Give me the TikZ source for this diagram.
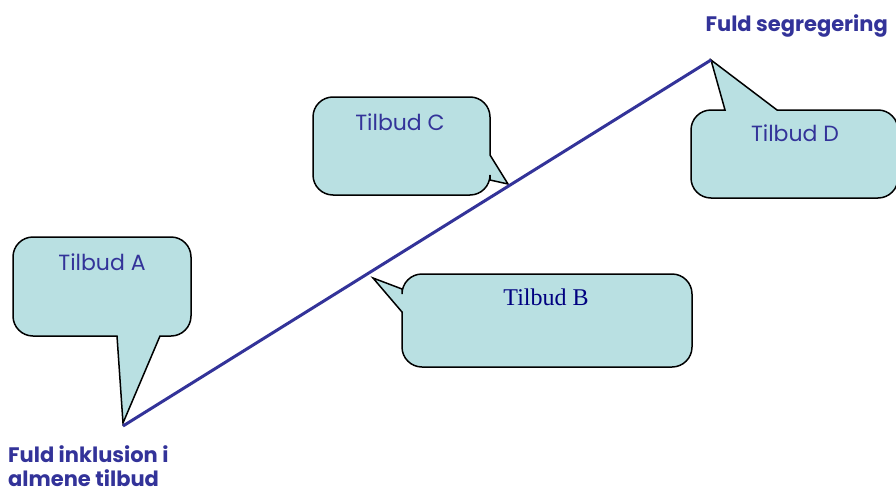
\documentclass[tikz,border=0pt]{standalone}
\usepackage{fontspec}
\setmainfont{Poppins}
\newfontfamily\serifB{Liberation Serif}
\definecolor{bubblefill}{RGB}{185,224,226}
\definecolor{labelblue}{RGB}{51,51,153}
\definecolor{navyB}{RGB}{0,0,128}
\tikzset{
	bubble/.style={draw=black, line width=1.5pt, fill=bubblefill, rounded corners=20pt},
	bubbletext/.style={text=labelblue, font=\fontsize{22}{26}\selectfont},
	endlabel/.style={text=labelblue, font=\bfseries\fontsize{21}{24}\selectfont, align=left, inner sep=1pt}
}

\begin{document}
\begin{tikzpicture}[x=1pt, y=-1pt]
	\useasboundingbox (0,0) rectangle (896,495);
	\coordinate (incl) at (123,426);
	\coordinate (segr) at (711,60);
	% callouts
	\draw[bubble] (100,237) -- (191,237) -- (191,336) [sharp corners] -- (160,336) -- (123,423) -- (117,336) [rounded corners=20pt] -- (13,336) -- (13,237) -- (100,237);
	\draw[bubble] (400,97) -- (490,97) [sharp corners] -- (490,155) -- (508,184) -- (490,180) [rounded corners=20pt] -- (490,195) -- (313,195) -- (313,97) -- (400,97);
	\draw[bubble] (550,274) -- (692,274) -- (692,367) -- (402,367) [sharp corners] -- (402,312) -- (373,278) -- (402,289) [rounded corners=20pt] -- (402,274) -- (550,274);
	\draw[bubble] (800,198) -- (691,198) -- (691,110) [sharp corners] -- (725,110) -- (711,60) -- (777,110) [rounded corners=20pt] -- (898,110) -- (898,198) -- (800,198);
	\node[bubbletext] (tilbudA) at (102,262) {Tilbud A};
	\node[bubbletext] (tilbudC) at (400,122) {Tilbud C};
	\node[text=navyB, font=\serifB\fontsize{24}{28}\selectfont] (tilbudB) at (546,297) {Tilbud B};
	\node[bubbletext] (tilbudD) at (795,133) {Tilbud D};
	% axis
	\draw[labelblue, line width=3pt] (incl) -- (segr);
	\node[endlabel, anchor=east] (segrLabel) at (889,26) {Fuld segregering};
	\node[endlabel, anchor=west] (inclLabel) at (7,466) {Fuld inklusion i\\almene tilbud};
\end{tikzpicture}
\end{document}
